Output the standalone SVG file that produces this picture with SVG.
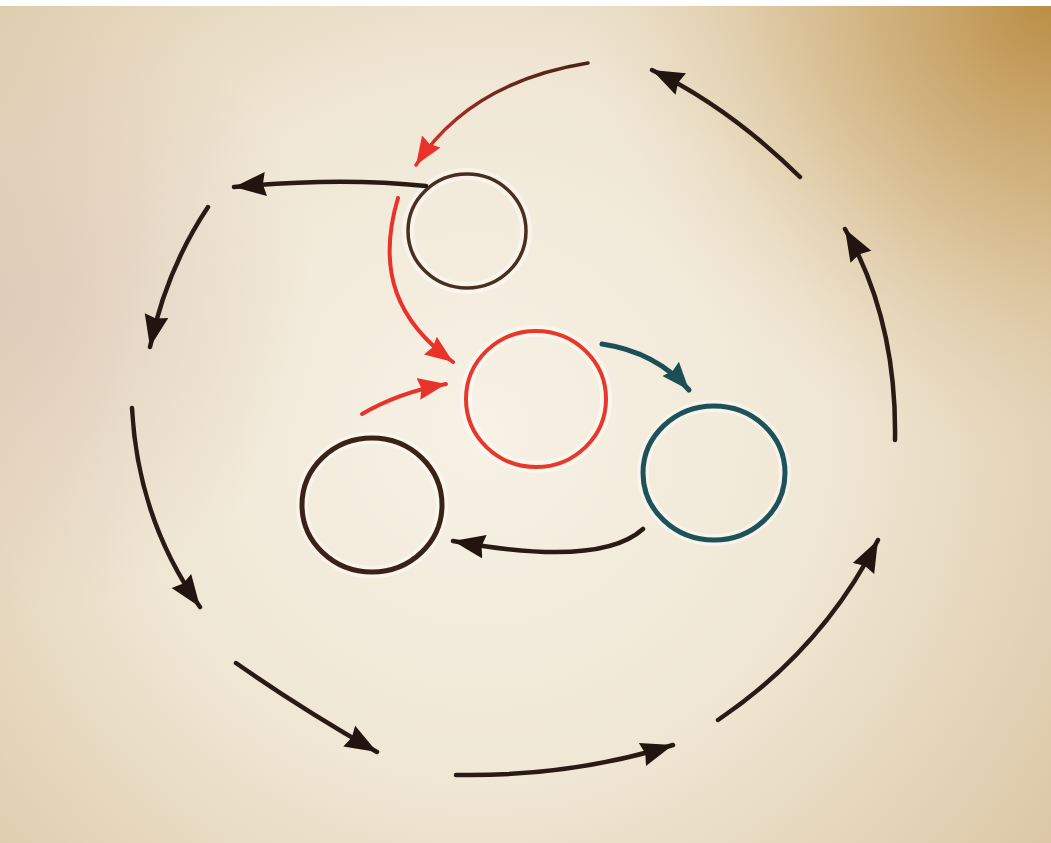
<svg xmlns="http://www.w3.org/2000/svg" width="1051" height="843" viewBox="0 0 1051 843">
<defs>
  <radialGradient id="paper" cx="480" cy="430" r="700" gradientUnits="userSpaceOnUse">
    <stop offset="0" stop-color="#f7f2e6"/>
    <stop offset="0.5" stop-color="#f0e7d5"/>
    <stop offset="1" stop-color="#dcc8a6"/>
  </radialGradient>
  <radialGradient id="gold" cx="1051" cy="0" r="460" gradientUnits="userSpaceOnUse">
    <stop offset="0" stop-color="#b88a3e" stop-opacity="0.95"/>
    <stop offset="0.5" stop-color="#c9a465" stop-opacity="0.5"/>
    <stop offset="1" stop-color="#e0cba4" stop-opacity="0"/>
  </radialGradient>
  <radialGradient id="leftpink" cx="0" cy="300" r="320" gradientUnits="userSpaceOnUse">
    <stop offset="0" stop-color="#dcc6b6" stop-opacity="0.75"/>
    <stop offset="1" stop-color="#dcc6b6" stop-opacity="0"/>
  </radialGradient>
  <linearGradient id="redfade" x1="588" y1="63" x2="416" y2="164" gradientUnits="userSpaceOnUse">
    <stop offset="0" stop-color="#4a2218"/>
    <stop offset="0.55" stop-color="#7a2a1e"/>
    <stop offset="1" stop-color="#e8352a"/>
  </linearGradient>
  <marker id="hk" markerUnits="userSpaceOnUse" markerWidth="34" markerHeight="28" refX="32" refY="14" orient="auto">
    <path d="M0,2 L32,14 L0,26 L3,14 Z" fill="#22140f"/>
  </marker>
  <marker id="hr" markerUnits="userSpaceOnUse" markerWidth="30" markerHeight="26" refX="28" refY="13" orient="auto">
    <path d="M0,2 L28,13 L0,24 L3,13 Z" fill="#e8322a"/>
  </marker>
  <marker id="ht" markerUnits="userSpaceOnUse" markerWidth="30" markerHeight="26" refX="28" refY="13" orient="auto">
    <path d="M0,2 L28,13 L0,24 L3,13 Z" fill="#1c4f55"/>
  </marker>
  <style>
    .outer { fill: none; stroke: #2a1a14; stroke-width: 4.5; stroke-linecap: round; marker-end: url(#hk); }
    .halo { fill: none; stroke: #ffffff; stroke-opacity: 0.45; stroke-width: 12; }
    .node { fill: none; }
  </style>
</defs>

<rect x="0" y="0" width="1051" height="843" fill="url(#paper)"/>
<rect x="0" y="0" width="1051" height="843" fill="url(#gold)"/>
<rect x="0" y="0" width="1051" height="843" fill="url(#leftpink)"/>
<rect x="0" y="0" width="1051" height="6" fill="#ffffff"/>

<g id="node-top">
  <ellipse class="halo" cx="467" cy="231" rx="59" ry="57"/>
  <ellipse class="node" cx="467" cy="231" rx="59" ry="57" stroke="#4a2f1f" stroke-width="3.5"/>
</g>
<g id="node-red">
  <ellipse class="halo" cx="536" cy="399" rx="70" ry="68"/>
  <ellipse class="node" cx="536" cy="399" rx="70" ry="68" stroke="#e8382c" stroke-width="4"/>
</g>
<g id="node-teal">
  <ellipse class="halo" cx="714" cy="473" rx="71" ry="67"/>
  <ellipse class="node" cx="714" cy="473" rx="71" ry="67" stroke="#1d5258" stroke-width="5"/>
</g>
<g id="node-brown">
  <ellipse class="halo" cx="372" cy="505" rx="70" ry="67"/>
  <ellipse class="node" cx="372" cy="505" rx="70" ry="67" stroke="#3b2216" stroke-width="5"/>
</g>

<g id="connectors">
  <path class="outer" d="M800,177 Q730,108 652,70"/>
  <path class="outer" d="M426,186 Q340,177 234,187"/>
  <path class="outer" d="M208,207 Q166,270 150,347"/>
  <path class="outer" d="M132,408 Q138,520 200,607"/>
  <path class="outer" d="M236,663 Q300,708 377,752"/>
  <path class="outer" d="M456,775 Q570,777 673,745"/>
  <path class="outer" d="M718,720 Q822,650 878,540"/>
  <path class="outer" d="M895,440 Q897,320 845,229"/>

  <path d="M588,63 Q470,82 416,165" fill="none" stroke="url(#redfade)" stroke-width="3.5" stroke-linecap="round" marker-end="url(#hr)"/>
  <path d="M398,198 C376,272 398,322 453,362" fill="none" stroke="#e8322a" stroke-width="4" stroke-linecap="round" marker-end="url(#hr)"/>
  <path d="M362,414 Q400,392 446,384" fill="none" stroke="#e8322a" stroke-width="4" stroke-linecap="round" marker-end="url(#hr)"/>
  <path d="M602,344 Q656,352 689,390" fill="none" stroke="#1c4f55" stroke-width="5" stroke-linecap="round" marker-end="url(#ht)"/>
  <path d="M643,529 Q600,568 453,541" fill="none" stroke="#2a1a14" stroke-width="4.5" stroke-linecap="round" marker-end="url(#hk)"/>
</g>
</svg>
